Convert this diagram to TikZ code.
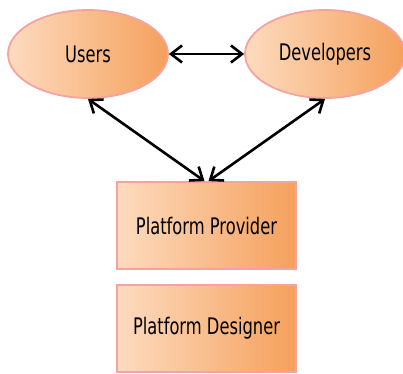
\documentclass[tikz,border=0pt]{standalone}
\usepackage{fontspec}
\newfontfamily\lblfont[FakeStretch=0.715]{DejaVu Sans}
\usetikzlibrary{shapes.geometric,arrows.meta}
\definecolor{edgepink}{HTML}{F4A3A0}
\definecolor{fillleft}{HTML}{FDDBBF}
\definecolor{fillright}{HTML}{F5A05C}
\tikzset{
  actor/.style={ellipse, draw=edgepink, line width=1.8pt, left color=fillleft, right color=fillright,
    minimum width=160pt, minimum height=88pt, inner sep=0pt, font=\lblfont\fontsize{22.8}{24}\selectfont},
  rolebox/.style={rectangle, draw=edgepink, line width=1.8pt, left color=fillleft, right color=fillright,
    minimum width=179pt, minimum height=87pt, inner sep=0pt, font=\lblfont\fontsize{22.8}{24}\selectfont},
  link/.style={line width=2.6pt, {Straight Barb[length=11pt,width=17pt]}-{Straight Barb[length=11pt,width=17pt]}}
}
\begin{document}
\begin{tikzpicture}[x=1pt,y=-1pt]
\useasboundingbox (0,0) rectangle (403,373);
\node[actor] (users) at (88,54) {Users};
\node[actor] (dev) at (325,54) {Developers};
\node[rolebox] (prov) at (206.5,225.5) {Platform Provider};
\node[rolebox] (desg) at (206.5,328.5) {Platform Designer};
\draw[link] (users) -- (dev);
\draw[link] (users.south) -- ([xshift=-2pt]prov.north);
\draw[link] (dev.south) -- ([xshift=2pt]prov.north);
\end{tikzpicture}
\end{document}
